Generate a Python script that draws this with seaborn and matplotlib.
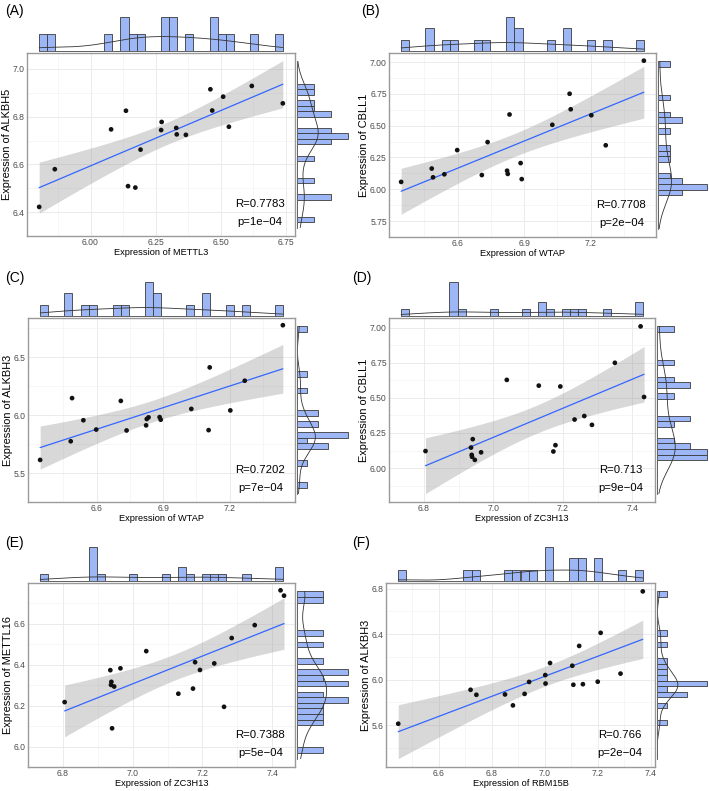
import numpy as np
import pandas as pd
import matplotlib
matplotlib.use("Agg")
import matplotlib.pyplot as plt
import seaborn as sns

# ---------------- data (per-sample expression values) ----------------
METTL3 = [5.803, 5.863, 6.079, 6.136, 6.144, 6.172, 6.192, 6.273, 6.271,
          6.329, 6.331, 6.366, 6.460, 6.467, 6.509, 6.531, 6.619, 6.738]
ALKBH5 = [6.422, 6.580, 6.747, 6.825, 6.509, 6.503, 6.662, 6.778, 6.744,
          6.753, 6.726, 6.724, 6.915, 6.826, 6.884, 6.758, 6.929, 6.856]

WTAP = [6.345, 6.483, 6.489, 6.540, 6.598, 6.709, 6.735, 6.823, 6.826,
        6.834, 6.884, 6.889, 7.027, 7.105, 7.110, 7.203, 7.268, 7.440]
CBLL1 = [6.058, 6.163, 6.094, 6.118, 6.308, 6.112, 6.371, 6.146, 6.121,
         6.588, 6.206, 6.080, 6.507, 6.751, 6.629, 6.582, 6.346, 7.011]
ALKBH3 = [5.613, 5.774, 6.146, 5.955, 5.875, 6.122, 5.867, 5.911, 5.966,
          5.980, 5.982, 5.960, 6.053, 5.870, 6.411, 6.040, 6.296, 6.775]
ZC3H13 = [6.947, 7.179, 6.938, 7.173, 7.284, 6.965, 7.262, 6.936, 6.805,
          7.131, 6.941, 6.939, 7.434, 7.350, 7.039, 7.193, 7.234, 7.424]
METTL16 = [6.293, 6.412, 6.301, 6.283, 6.530, 6.382, 6.194, 6.373, 6.217,
           6.258, 6.089, 6.316, 6.737, 6.593, 6.466, 6.374, 6.406, 6.763]
RBM15B = [6.447, 6.880, 7.020, 7.108, 6.924, 7.104, 6.742, 6.720, 7.003,
          6.941, 7.200, 7.144, 7.286, 6.850, 7.211, 7.002, 7.130, 7.370]

genes = {"METTL3": METTL3, "ALKBH5": ALKBH5, "WTAP": WTAP, "CBLL1": CBLL1,
         "ALKBH3": ALKBH3, "ZC3H13": ZC3H13, "METTL16": METTL16, "RBM15B": RBM15B}
df = pd.DataFrame(genes)

panel_tags = ["(A)", "(B)", "(C)", "(D)", "(E)", "(F)"]
x_genes = ["METTL3", "WTAP", "WTAP", "ZC3H13", "ZC3H13", "RBM15B"]
y_genes = ["ALKBH5", "CBLL1", "ALKBH3", "CBLL1", "METTL16", "ALKBH3"]
r_labels = ["R=0.7783", "R=0.7708", "R=0.7202", "R=0.713", "R=0.7388", "R=0.766"]
p_labels = ["p=1e\u221204", "p=2e\u221204", "p=7e\u221204", "p=9e\u221204", "p=5e\u221204", "p=2e\u221204"]

x_ticks = [[6.00, 6.25, 6.50, 6.75], [6.6, 6.9, 7.2], [6.6, 6.9, 7.2],
           [6.8, 7.0, 7.2, 7.4], [6.8, 7.0, 7.2, 7.4], [6.6, 6.8, 7.0, 7.2, 7.4]]
x_ticklabels = [["6.00", "6.25", "6.50", "6.75"], ["6.6", "6.9", "7.2"], ["6.6", "6.9", "7.2"],
                ["6.8", "7.0", "7.2", "7.4"], ["6.8", "7.0", "7.2", "7.4"],
                ["6.6", "6.8", "7.0", "7.2", "7.4"]]
y_ticks = [[6.4, 6.6, 6.8, 7.0], [5.75, 6.00, 6.25, 6.50, 6.75, 7.00], [5.5, 6.0, 6.5],
           [6.00, 6.25, 6.50, 6.75, 7.00], [6.0, 6.2, 6.4, 6.6], [5.6, 6.0, 6.4, 6.8]]
y_ticklabels = [["6.4", "6.6", "6.8", "7.0"], ["5.75", "6.00", "6.25", "6.50", "6.75", "7.00"],
                ["5.5", "6.0", "6.5"], ["6.00", "6.25", "6.50", "6.75", "7.00"],
                ["6.0", "6.2", "6.4", "6.6"], ["5.6", "6.0", "6.4", "6.8"]]

# ---------------- layout (pixel boxes of main panels) ----------------
W, H = 709, 791
main_boxes = [(27, 53, 295, 236), (389, 53, 656, 237),
              (28, 318, 295, 502), (389, 318, 655, 502),
              (28, 583, 295, 767), (386, 583, 655, 767)]
tag_pos = [(5, 4), (361, 4), (5, 271), (352, 271), (5, 536), (352, 536)]

BAR_FILL = "#9db6f5"
BAR_EDGE = "#3a3a3a"
FONT = ["Liberation Sans", "DejaVu Sans"]

sns.set_theme(style="white")
plt.rcParams["font.family"] = FONT

try:
    from scipy import stats as _st
    def tq(df_):
        return _st.t.ppf(0.975, df_)
except Exception:
    def tq(df_):
        return 2.119905  # 97.5% t quantile, df = 16 (n = 18)


def rect(x0, y0, x1, y1):
    return [x0 / W, 1 - y1 / H, (x1 - x0) / W, (y1 - y0) / H]


def nrd0_adjust(v):
    v = np.asarray(v)
    sd = v.std(ddof=1)
    iqr = np.subtract(*np.percentile(v, [75, 25]))
    return 0.9 * min(sd, iqr / 1.34) / sd


fig = plt.figure(figsize=(W / 100, H / 100), dpi=100)

for i in range(6):
    xg, yg = x_genes[i], y_genes[i]
    x = df[xg].to_numpy()
    y = df[yg].to_numpy()
    n = len(x)

    # linear fit with 95% confidence band (as ggplot's geom_smooth(method = "lm"))
    b1, b0 = np.polyfit(x, y, 1)
    xs = np.linspace(x.min(), x.max(), 80)
    yh = b0 + b1 * xs
    s = np.sqrt(((y - (b0 + b1 * x)) ** 2).sum() / (n - 2))
    sxx = ((x - x.mean()) ** 2).sum()
    se = s * np.sqrt(1 / n + (xs - x.mean()) ** 2 / sxx)
    lo_band, hi_band = yh - tq(n - 2) * se, yh + tq(n - 2) * se

    xlo, xhi = x.min(), x.max()
    ylo, yhi = min(y.min(), lo_band.min()), max(y.max(), hi_band.max())
    xr, yr = xhi - xlo, yhi - ylo
    xlim = (xlo - 0.05 * xr, xhi + 0.05 * xr)
    ylim = (ylo - 0.05 * yr, yhi + 0.05 * yr)

    x0, y0, x1, y1 = main_boxes[i]
    ax = fig.add_axes(rect(x0, y0, x1, y1))
    axt = fig.add_axes(rect(x0, y0 - 37, x1, y0 - 1.3))
    axr = fig.add_axes(rect(x1 + 1.6, y0, min(x1 + 55, W - 1), y1))

    # ---- main panel ----
    ax.set_facecolor("white")
    ax.fill_between(xs, lo_band, hi_band, color="#999999", alpha=0.38, lw=0, zorder=2)
    sns.regplot(x=x, y=y, ax=ax, scatter=False, ci=None, truncate=True,
                line_kws=dict(color="#3366FF", lw=0.9, zorder=3))
    sns.scatterplot(x=x, y=y, ax=ax, color="#111111", s=11.5, edgecolor="none", zorder=4)
    ax.set_xlim(xlim)
    ax.set_ylim(ylim)
    ax.set_xticks(x_ticks[i])
    ax.set_xticklabels(x_ticklabels[i])
    ax.set_yticks(y_ticks[i])
    ax.set_yticklabels(y_ticklabels[i])
    xt, yt = x_ticks[i], y_ticks[i]
    dx, dy = xt[1] - xt[0], yt[1] - yt[0]
    ax.set_xticks(np.arange(xt[0] - dx / 2, xlim[1], dx), minor=True)
    ax.set_yticks(np.arange(yt[0] - dy / 2, ylim[1], dy), minor=True)
    ax.grid(True, which="major", color="#ebebeb", lw=0.7, zorder=0)
    ax.grid(True, which="minor", color="#f2f2f2", lw=0.45, zorder=0)
    ax.set_axisbelow(True)
    for sp in ax.spines.values():
        sp.set_color("#9a9a9a")
        sp.set_linewidth(1.0)
    ax.tick_params(axis="both", which="major", length=1.2, width=0.5, color="#555555",
                   labelsize=6.2, labelcolor="#4d4d4d", pad=0.4)
    ax.tick_params(axis="both", which="minor", length=0)
    ax.set_xlabel(f"Expression of {xg}", fontsize=6.7, color="black", labelpad=0.3)
    ax.set_ylabel(f"Expression of {yg}", fontsize=7.9, color="black", labelpad=0.3)
    ax.text(0.87, 0.175, r_labels[i], transform=ax.transAxes, ha="center", va="center",
            fontsize=8.2, color="black", zorder=5)
    ax.text(0.87, 0.075, p_labels[i], transform=ax.transAxes, ha="center", va="center",
            fontsize=8.2, color="black", zorder=5)

    # ---- top marginal (x) ----
    sns.histplot(x=x, ax=axt, bins=30, binrange=(xlo, xhi), stat="density",
                 color=BAR_FILL, edgecolor=BAR_EDGE, linewidth=0.6, alpha=1)
    sns.kdeplot(x=x, ax=axt, bw_adjust=nrd0_adjust(x), cut=10, clip=(xlo, xhi),
                color="#333333", lw=0.6)
    axt.plot([xlo, xhi], [0, 0], color="#666666", lw=0.7)
    axt.set_xlim(xlim)
    top_max = max(p.get_height() for p in axt.patches)
    top_max = max(top_max, max(l.get_ydata().max() for l in axt.lines))
    axt.set_ylim(-0.01 * top_max, top_max * 1.02)
    axt.axis("off")

    # ---- right marginal (y) ----
    sns.histplot(y=y, ax=axr, bins=30, binrange=(ylo, yhi), stat="density",
                 color=BAR_FILL, edgecolor=BAR_EDGE, linewidth=0.6, alpha=1)
    sns.kdeplot(y=y, ax=axr, bw_adjust=nrd0_adjust(y), cut=10, clip=(ylo, yhi),
                color="#333333", lw=0.6)
    axr.plot([0, 0], [ylo, yhi], color="#666666", lw=0.7)
    axr.set_ylim(ylim)
    r_max = max(p.get_width() for p in axr.patches)
    r_max = max(r_max, max(l.get_xdata().max() for l in axr.lines))
    axr.set_xlim(-0.01 * r_max, r_max * 1.03)
    axr.axis("off")

    tx, ty = tag_pos[i]
    fig.text(tx / W, 1 - ty / H, panel_tags[i], ha="left", va="top", fontsize=10, color="black")

fig.savefig("out.png", dpi=100, facecolor="white")
